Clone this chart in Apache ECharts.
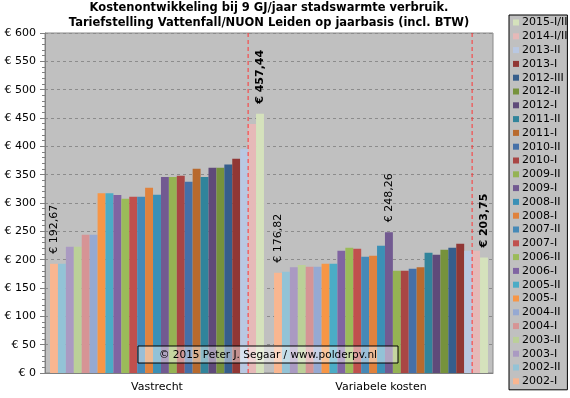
<!DOCTYPE html>
<html>
<head>
<meta charset="utf-8">
<script src="https://cdn.jsdelivr.net/npm/echarts@6/dist/echarts.min.js"></script>
<style>
  html, body { margin: 0; padding: 0; background: #fff; }
  #chartMain { width: 570px; height: 398px; }
</style>
</head>
<body>
<div id="chartMain"></div>
<script>
// categorieen en perioden
const categories = ['Vastrecht', 'Variabele kosten'];
const periods = ['2002-I', '2002-II', '2003-I', '2003-II', '2004-I', '2004-II', '2005-I', '2005-II',
  '2006-I', '2006-II', '2007-I', '2007-II', '2008-I', '2008-II', '2009-I', '2009-II',
  '2010-I', '2010-II', '2011-I', '2011-II', '2012-I', '2012-II', '2012-III', '2013-I',
  '2013-II', '2014-I/II', '2015-I/II'];

// kosten per periode (euro per jaar)
const vastrecht = [192.67, 192.67, 222.9, 222.9, 244, 244, 317, 317, 314, 307.6, 311, 311, 327, 314.7,
  346, 346, 348, 337.6, 360.5, 346, 362, 362, 368, 378, 395.8, 439.4, 457.44];
const variabel = [176.82, 178.8, 186.4, 190.5, 187.6, 187.6, 193, 193, 215.8, 221, 219.3, 205.2, 207, 224.6,
  248.26, 180.5, 180.5, 184, 186.4, 212.3, 208.8, 217.6, 221, 228, 215.8, 215.8, 203.75];

const colors = ['#F9B690', '#93C3D6', '#AA9AC2', '#BBD098', '#D69495', '#96A9D2', '#F79646', '#4BACC6',
  '#8064A2', '#9BBB59', '#C0504D', '#4689B7', '#E0823D', '#3B90B6', '#725A91', '#95B353',
  '#A94644', '#4570A8', '#B86A2E', '#31849B', '#5F4A7A', '#76923C', '#365E8C', '#913735',
  '#B9C8E2', '#E6B9B8', '#D5E2BC'];

// welke balken een label krijgen: [periode-index, categorie-index, vet]
const labelled = [[0, 0, false], [0, 1, false], [14, 1, false], [26, 0, true], [26, 1, true]];

const yMin = 0, yMax = 600, yStep = 50;
const catGap = 0.045;
const splitIndex = 25; // rode lijn voor 2014-I/II

const font = 'DejaVu Sans';

function euro(v) {
  return '€ ' + v.toFixed(2).replace('.', ',');
}

let myChart = echarts.init(document.getElementById('chartMain'));

let series = periods.map((p, i) => {
  const vals = [vastrecht[i], variabel[i]];
  return {
    name: p,
    type: 'bar',
    barGap: 0,
    barCategoryGap: (catGap * 100) + '%',
    itemStyle: { color: colors[i] },
    data: vals.map((v, c) => {
      const hit = labelled.find(l => l[0] === i && l[1] === c);
      if (!hit) return v;
      return {
        value: v,
        label: {
          show: true,
          position: 'top',
          distance: 10,
          rotate: 90,
          align: 'left',
          verticalAlign: 'middle',
          fontFamily: font,
          fontSize: 11,
          fontWeight: hit[2] ? 'bold' : 'normal',
          color: '#000',
          formatter: euro(v)
        }
      };
    })
  };
});

// rode stippellijnen tussen 2013-II en 2014-I/II
series.push({
  type: 'custom',
  silent: true,
  z: 10,
  encode: { x: 0, y: 1 },
  data: categories.map((c, i) => [i, 0]),
  renderItem: (params, api) => {
    const cat = api.value(0);
    const bottom = api.coord([cat, yMin]);
    const top = api.coord([cat, yMax]);
    const band = api.size([1, 0])[0];
    const used = band * (1 - catGap);
    const x = bottom[0] - used / 2 + splitIndex * used / periods.length;
    return {
      type: 'line',
      shape: { x1: x, y1: top[1], x2: x, y2: bottom[1] },
      style: { stroke: '#FF3535', lineWidth: 1, lineDash: [4, 3] }
    };
  }
});

myChart.setOption({
  animation: false,
  backgroundColor: '#fff',
  grid: {
    left: 45, right: 77, top: 33, bottom: 25,
    show: true, backgroundColor: '#C0C0C0', borderColor: '#8a8a8a', borderWidth: 1
  },
  legend: {
    data: periods.slice().reverse(),
    orient: 'vertical',
    left: 509, top: 15,
    padding: [2, 0, 3, 4],
    itemGap: 2.8,
    itemWidth: 6, itemHeight: 6,
    icon: 'rect',
    backgroundColor: '#C0C0C0',
    borderColor: '#000', borderWidth: 1, borderRadius: 0,
    textStyle: { fontFamily: font, fontSize: 11, color: '#000', padding: [0, 0, 0, -2] },
    selectedMode: false
  },
  xAxis: {
    type: 'category',
    data: categories,
    axisLine: { lineStyle: { color: '#808080' } },
    axisTick: { length: 4, lineStyle: { color: '#808080' } },
    axisLabel: { fontFamily: font, fontSize: 11, color: '#000', margin: 9 }
  },
  yAxis: {
    type: 'value',
    min: yMin, max: yMax, interval: yStep,
    axisLine: { show: true, lineStyle: { color: '#808080' } },
    axisTick: { show: true, length: 5, lineStyle: { color: '#808080' } },
    minorTick: { show: true, splitNumber: 5, length: 3, lineStyle: { color: '#808080' } },
    splitLine: { lineStyle: { color: '#8c8c8c', type: [3, 3] } },
    axisLabel: { fontFamily: font, fontSize: 11, color: '#000', margin: 9, formatter: v => '€ ' + v }
  },
  graphic: [
    {
      type: 'text',
      x: 269, y: 1,
      style: {
        text: '{b|Kostenontwikkeling bij }{r|9 GJ/jaar}{b| stadswarmte verbruik.}\n{b|Tariefstelling Vattenfall/NUON Leiden op jaarbasis (incl. BTW)}',
        align: 'center',
        verticalAlign: 'top',
        rich: {
          b: { fontFamily: font, fontSize: 11.5, fontWeight: 'bold', color: '#000', lineHeight: 15 },
          r: { fontFamily: font, fontSize: 11.5, fontWeight: 'bold', color: '#FF0000', lineHeight: 15 }
        }
      }
    },
    {
      type: 'rect',
      x: 138, y: 346,
      z: 100,
      shape: { x: 0, y: 0, width: 260, height: 17 },
      style: { fill: 'rgba(255,255,255,0.45)', stroke: '#000', lineWidth: 1 }
    },
    {
      type: 'text',
      x: 268, y: 355,
      z: 101,
      style: {
        text: '© 2015 Peter J. Segaar / www.polderpv.nl',
        align: 'center', verticalAlign: 'middle',
        fontFamily: font, fontSize: 10.5, fill: '#000'
      }
    }
  ],
  series: series
});
</script>
</body>
</html>
